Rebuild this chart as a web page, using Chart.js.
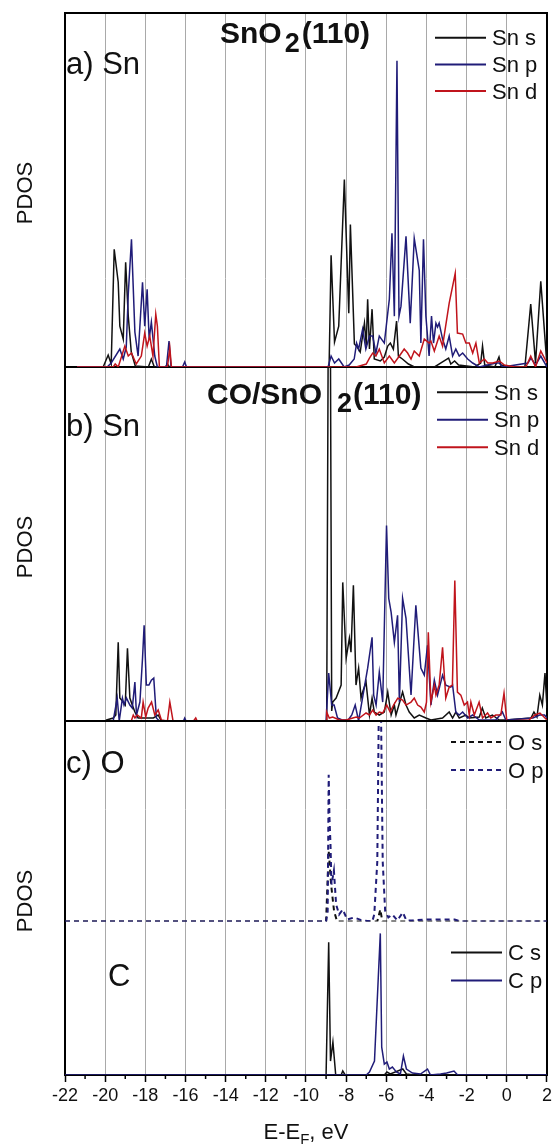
<!DOCTYPE html>
<html>
<head>
<meta charset="utf-8">
<script src="https://cdn.jsdelivr.net/npm/chart.js@4.4.0/dist/chart.umd.min.js"></script>
<style>
  html, body { margin: 0; padding: 0; background: #fff; }
  #wrap { width: 555px; height: 1144px; position: relative; }
</style>
</head>
<body>
<div id="wrap"><canvas id="pdosChart"></canvas></div>
<script>
// ==============================
// Dados - energia (eV) e PDOS (unidades arbitrarias)
// ==============================
const xMin = -22;
const xMax = 2;

// a) Sn em SnO2(110)
const aSnS_E = [-21.4, -20.1, -19.85, -19.7, -19.55, -19.35, -19.27, -19.1, -18.98, -18.85, -18.7, -18.5, -17.85, -17.7, -17.55, -17.0, -16.9, -16.8,
  -8.85, -8.75, -8.58, -8.37, -8.09, -7.87, -7.79, -7.59, -7.45, -7.3, -7.09, -7.0, -6.93, -6.84, -6.71, -6.6, -6.3, -6.1, -5.93, -5.8, -5.65, -5.49, -5.4, -5.2, -4.9, -4.6,
  -3.6, -3.3, -2.9, -2.79, -2.6, -2.4, -1.6, -1.3, -1.21, -1.1, -0.6, -0.39, -0.3, 0.2, 0.9, 1.19, 1.43, 1.69, 2.0];
const aSnS_V = [0, 0, 12, 3, 118, 85, 41, 28, 105, 51, 15, 1, 0, 8, 0, 0, 3, 0,
  0, 112, 25, 41, 188, 54, 143, 23, 20, 15, 44, 22, 68, 18, 58, 8, 6, 10, 21, 24, 18, 46, 11, 8, 3, 0,
  0, 4, 9, 3, 6, 2, 0, 4, 21, 2, 0, 10, 2, 0, 0, 63, 4, 86, 1];

const aSnP_E = [-21.4, -19.9, -19.7, -19.27, -19.1, -18.95, -18.85, -18.69, -18.52, -18.36, -18.14, -18.03, -17.91, -17.81, -17.7, -17.53, -17.4, -16.95, -16.82, -16.72, -16.15, -16.04, -15.95,
  -8.9, -8.75, -8.58, -8.37, -8.1, -7.85, -7.6, -7.48, -7.38, -7.18, -7.02, -6.84, -6.68, -6.52, -6.35, -6.1, -5.85, -5.72, -5.6, -5.47, -5.37, -5.27, -5.02, -4.81, -4.61, -4.36, -4.28, -4.15, -4.03,
  -3.87, -3.75, -3.65, -3.53, -3.45, -3.37, -3.2, -3.04, -2.87, -2.7, -2.54, -2.37, -2.2, -1.95, -1.7, -1.37, -0.54, -0.38, -0.2, 1.05, 1.2, 1.43, 1.69, 2.0];
const aSnP_V = [0, 0, 4, 18, 8, 20, 73, 128, 35, 11, 85, 41, 78, 28, 45, 11, 0, 0, 26, 0, 0, 5, 0,
  0, 11, 4, 8, 0, 2, 8, 24, 18, 38, 18, 31, 31, 14, 31, 24, 68, 134, 51, 307, 51, 61, 131, 44, 129, 97, 24, 128, 51,
  11, 51, 24, 44, 40, 44, 28, 18, 31, 11, 18, 11, 14, 8, 4, 0, 4, 4, 0, 4, 9, 2, 11, 0];

const aSnD_E = [-21.4, -19.6, -19.5, -19.35, -19.02, -18.85, -18.69, -18.45, -18.2, -18.03, -17.91, -17.78, -17.62, -17.48, -17.4, -17.3, -16.9, -16.78, -16.7,
  -7.5, -7.0, -6.84, -6.68, -6.52, -6.35, -6.1, -5.85, -5.6, -5.35, -5.11, -4.94, -4.77, -4.61, -4.36, -4.11, -3.87, -3.78, -3.61, -3.37, -3.2, -2.87, -2.57, -2.46,
  -2.2, -2.04, -1.87, -1.7, -1.54, -1.37, -1.12, -0.95, -0.7, -0.37, -0.12, 0.4, 0.95, 1.19, 1.43, 1.69, 2.0];
const aSnD_V = [0, 0, 3, 0, 21, 11, 14, 3, 11, 34, 21, 31, 11, 53, 41, 0, 0, 19, 0,
  0, 3, 9, 14, 11, 18, 4, 11, 4, 11, 18, 14, 8, 16, 11, 28, 24, 26, 16, 31, 21, 64, 94, 34,
  33, 24, 24, 14, 24, 4, 8, 4, 4, 6, 2, 0, 0, 11, 0, 16, 4];

// b) Sn em CO/SnO2(110)
const bSnS_E = [-21.4, -20.0, -19.93, -19.6, -19.47, -19.35, -19.27, -19.1, -19.0, -18.89, -18.77, -18.65, -18.52, -18.36, -18.1, -17.85, -17.6, -17.36, -17.2,
  -8.97, -8.9, -8.78, -8.72, -8.67, -8.5, -8.25, -8.17, -8.0, -7.84, -7.76, -7.64, -7.51, -7.38, -7.26, -7.18, -7.01, -6.84, -6.71, -6.6, -6.35, -6.1, -5.93, -5.76, -5.6, -5.52,
  -5.19, -5.02, -4.86, -4.61, -4.36, -4.03, -3.78, -3.2, -2.87, -2.7, -2.54, -2.37, -2.04, -1.87, -1.37, -1.22, -1.05, -0.72, -0.38, -0.05, 1.2, 1.35, 1.5, 1.64, 1.77, 1.9, 2.0];
const bSnS_V = [0, 0, 1, 3, 6, 79, 23, 19, 16, 73, 23, 16, 9, 3, 3, 3, 3, 6, 0,
  0, 355, 355, 10, 19, 23, 36, 139, 63, 83, 69, 136, 36, 53, 23, 29, 39, 6, 23, 9, 6, 9, 29, 6, 16, 6,
  29, 16, 9, 3, 6, 3, 1, 3, 9, 3, 9, 3, 6, 3, 4, 13, 3, 6, 1, 1, 3, 9, 4, 26, 16, 48, 13];

const bSnP_E = [-21.4, -19.6, -19.4, -19.3, -19.14, -19.06, -18.94, -18.77, -18.65, -18.52, -18.44, -18.27, -18.14, -18.06, -17.95, -17.82, -17.7, -17.58, -17.45, -17.3, -16.1, -16.04, -15.97,
  -9.0, -8.87, -8.72, -8.6, -8.43, -8.2, -7.9, -7.72, -7.55, -7.38, -7.22, -6.93, -6.71, -6.63, -6.51, -6.35, -6.18, -5.99, -5.88, -5.76, -5.6, -5.44, -5.35, -5.19, -5.02,
  -4.77, -4.53, -4.28, -4.11, -3.95, -3.78, -3.61, -3.45, -3.2, -3.04, -2.79, -2.7, -2.54, -2.37, -2.2, -1.95, -1.7, -1.37, -0.55, -0.22, -0.05, 1.3, 1.63, 1.88, 2.0];
const bSnP_V = [0, 0, 23, 0, 23, 16, 23, 16, 13, 39, 6, 19, 63, 96, 36, 36, 41, 43, 3, 0, 0, 3, 0,
  0, 48, 16, 16, 3, 1, 1, 6, 16, 0, 19, 53, 84, 26, 16, 49, 19, 196, 123, 109, 79, 106, 19, 123, 103,
  26, 116, 53, 46, 76, 16, 41, 26, 46, 36, 34, 36, 9, 6, 9, 3, 6, 1, 1, 9, 1, 3, 6, 6, 3];

const bSnD_E = [-21.4, -18.7, -18.6, -18.52, -18.4, -18.2, -18.11, -17.98, -17.86, -17.69, -17.53, -17.36, -17.2, -16.9, -16.78, -16.62, -15.6, -15.49, -15.42,
  -9.0, -8.97, -8.84, -8.67, -8.34, -8.0, -7.67, -7.5, -7.34, -7.01, -6.84, -6.68, -6.51, -6.35, -6.18, -5.98, -5.81, -5.64, -5.43, -5.19, -5.02, -4.77, -4.61, -4.44,
  -4.28, -4.11, -4.0, -3.91, -3.78, -3.61, -3.53, -3.37, -3.2, -3.04, -2.87, -2.71, -2.59, -2.46, -2.29, -2.12, -1.96, -1.87, -1.79, -1.62, -1.38, -1.21,
  -0.96, -0.8, -0.55, -0.3, -0.14, 0.0, 1.1, 1.4, 1.65, 2.0];
const bSnD_V = [0, 0, 6, 3, 6, 3, 19, 4, 13, 19, 6, 11, 1, 0, 19, 0, 0, 3, 0,
  0, 9, 3, 4, 1, 1, 3, 4, 3, 8, 6, 11, 6, 9, 8, 16, 9, 16, 23, 21, 16, 19, 23, 16,
  14, 9, 19, 89, 19, 36, 26, 36, 74, 23, 34, 36, 141, 29, 26, 16, 19, 6, 19, 6, 19, 3,
  8, 3, 6, 6, 28, 0, 1, 6, 8, 1];

// c) O e C da molecula CO
const cOS_E = [-22, -9.0, -8.87, -8.75, -8.6, -8.45, -6.45, -6.3, -6.2, 2.0];
const cOS_V = [0, 0, 71, 37, 10, 0, 0, 12, 0, 0];

const cOP_E = [-22, -9.0, -8.92, -8.87, -8.83, -8.78, -8.73, -8.61, -8.5, -8.35, -8.17, -7.95, -7.6, -7.2, -6.7, -6.6, -6.45, -6.38, -6.26, -6.18,
  -6.06, -5.9, -5.7, -5.45, -5.18, -5.0, -4.7, -3.95, -2.6, -2.3, 2.0];
const cOP_V = [0, 0, 10, 147, 104, 77, 37, 51, 17, 7, 12, 2, 4, 1, 0, 7, 60, 201, 201, 60,
  11, 4, 7, 1, 9, 1, 1, 2, 2, 0, 0];

const cCS_E = [-22, -9.0, -8.87, -8.78, -8.66, -8.52, -8.25, -8.17, -8.05, -6.1, -5.97, -5.8, -5.18, -5.0, -4.6, 2.0];
const cCS_V = [0, 0, 133, 14, 33, 0, 0, 4, 0, 0, 3, 1, 6, 1, 0, 0];

const cCP_E = [-22, -7.0, -6.84, -6.59, -6.4, -6.3, -6.23, -6.1, -5.97, -5.85, -5.7, -5.5, -5.3, -5.15, -5.0, -4.7, -4.3, -3.95, -3.8, -3.3, -3.0, -2.63, -2.45, 2.0];
const cCP_V = [0, 0, 3, 14, 98, 142, 28, 11, 13, 6, 8, 3, 1, 19, 6, 2, 1, 6, 0, 1, 2, 4, 0, 0];

// ==============================
// Estilos
// ==============================
const FONT = "'Liberation Sans', Arial, sans-serif";
const PRETO = "#111111";
const AZUL = "#201c78";
const VERMELHO = "#c0141c";
const GRADE = "#a9a9a9";
const TRACO = [5, 4];

function serie(label, es, vs, color, axis, order, dash) {
  return {
    label,
    data: es.map((e, i) => ({ x: e, y: vs[i] })),
    borderColor: color,
    borderWidth: dash ? 2 : 1.5,
    borderDash: dash || [],
    pointRadius: 0,
    tension: 0,
    fill: false,
    yAxisID: axis,
    order,
  };
}

function eixoPainel(max, peso, ordem) {
  return {
    type: "linear",
    position: "left",
    stack: "pdos",
    stackWeight: peso,
    weight: ordem,
    min: 0,
    max,
    ticks: { display: false },
    grid: { display: false, drawTicks: false },
    border: { display: false },
  };
}

// legendas e textos de cada painel
const painelTextos = [
  { axis: "yA", rotulo: "a) Sn", rx: 1, ry: 61,
    leg: [["Sn s", PRETO, []], ["Sn p", AZUL, []], ["Sn d", VERMELHO, []]], lx: 435, ly: 24.7, lstep: 26.7 },
  { axis: "yB", rotulo: "b) Sn", rx: 1, ry: 68.7,
    leg: [["Sn s", PRETO, []], ["Sn p", AZUL, []], ["Sn d", VERMELHO, []]], lx: 437, ly: 25.3, lstep: 27.5 },
  { axis: "yO", rotulo: "c) O", rx: 1, ry: 52,
    leg: [["O s", PRETO, TRACO], ["O p", AZUL, TRACO]], lx: 451, ly: 21, lstep: 28 },
  { axis: "yC", rotulo: "C", rx: 43, ry: 65,
    leg: [["C s", PRETO, []], ["C p", AZUL, []]], lx: 451, ly: 31, lstep: 28 },
];

function textoPartes(ctx, partes, x) {
  // partes: [texto, fonte, baseline, espaco-antes]
  partes.forEach(([t, f, y, gap]) => {
    ctx.font = f;
    x += gap || 0;
    ctx.fillText(t, x, y);
    x += ctx.measureText(t).width;
  });
}

const decor = {
  id: "decor",
  beforeDatasetsDraw(chart) {
    const { ctx, chartArea: a, scales } = chart;
    ctx.save();
    ctx.strokeStyle = "#000";
    ctx.lineWidth = 2;
    ctx.strokeRect(a.left, a.top, a.right - a.left, a.bottom - a.top);
    ctx.beginPath();
    ctx.moveTo(a.left, scales.yA.bottom);
    ctx.lineTo(a.right, scales.yA.bottom);
    ctx.stroke();
    // ticks menores (valores impares)
    ctx.lineWidth = 1.5;
    scales.x.ticks.forEach((t) => {
      if (Math.abs(t.value % 2) === 1) {
        const px = scales.x.getPixelForValue(t.value);
        ctx.beginPath();
        ctx.moveTo(px, a.bottom);
        ctx.lineTo(px, a.bottom + 4);
        ctx.stroke();
      }
    });
    ctx.restore();
  },
  afterDatasetsDraw(chart) {
    const { ctx, chartArea: a, scales } = chart;
    ctx.save();
    ctx.strokeStyle = "#000";
    ctx.lineWidth = 2;
    ctx.beginPath();
    ctx.moveTo(a.left, scales.yB.bottom);
    ctx.lineTo(a.right, scales.yB.bottom);
    ctx.stroke();

    ctx.fillStyle = "#111";
    ctx.textBaseline = "alphabetic";
    ctx.textAlign = "left";

    painelTextos.forEach((p) => {
      const s = scales[p.axis];
      ctx.font = `31px ${FONT}`;
      ctx.fillText(p.rotulo, a.left + p.rx, s.top + p.ry);
      p.leg.forEach(([nome, cor, dash], i) => {
        const y = s.top + p.ly + i * p.lstep;
        ctx.strokeStyle = cor;
        ctx.lineWidth = 2;
        ctx.setLineDash(dash);
        ctx.beginPath();
        ctx.moveTo(p.lx, y);
        ctx.lineTo(p.lx + 51, y);
        ctx.stroke();
        ctx.setLineDash([]);
        ctx.font = `22px ${FONT}`;
        ctx.fillText(nome, p.lx + 57, y + 7.5);
      });
    });

    // titulos dos paineis
    const yA = scales.yA.top, yB = scales.yB.top;
    textoPartes(ctx, [
      ["SnO", `bold 30px ${FONT}`, yA + 30],
      ["2", `bold 27px ${FONT}`, yA + 38.5, 3],
      ["(110)", `bold 30px ${FONT}`, yA + 30, 2],
    ], 220);
    textoPartes(ctx, [
      ["CO/SnO", `bold 30px ${FONT}`, yB + 37],
      ["2", `bold 27px ${FONT}`, yB + 45, 15],
      ["(110)", `bold 30px ${FONT}`, yB + 37, 1],
    ], 207);

    // PDOS em cada painel
    ctx.font = `22px ${FONT}`;
    ctx.textAlign = "center";
    [[scales.yA.top, scales.yA.bottom], [scales.yB.top, scales.yB.bottom], [scales.yO.top, scales.yC.bottom]].forEach(([t, b]) => {
      ctx.save();
      ctx.translate(31.5, (t + b) / 2 + 3);
      ctx.rotate(-Math.PI / 2);
      ctx.fillText("PDOS", 0, 0);
      ctx.restore();
    });

    // titulo do eixo x: E-E_F, eV
    ctx.textAlign = "left";
    const partes = [
      ["E-E", `22px ${FONT}`, 1139],
      ["F", `15px ${FONT}`, 1144],
      [", eV", `22px ${FONT}`, 1139],
    ];
    let w = 0;
    partes.forEach(([t, f]) => { ctx.font = f; w += ctx.measureText(t).width; });
    textoPartes(ctx, partes, (a.left + a.right) / 2 - w / 2);
    ctx.restore();
  },
};

// ==============================
// Grafico
// ==============================
const ctx = document.getElementById("pdosChart");
new Chart(ctx, {
  type: "line",
  data: {
    datasets: [
      serie("Sn s", aSnS_E, aSnS_V, PRETO, "yA", 3),
      serie("Sn p", aSnP_E, aSnP_V, AZUL, "yA", 2),
      serie("Sn d", aSnD_E, aSnD_V, VERMELHO, "yA", 1),
      serie("Sn s", bSnS_E, bSnS_V, PRETO, "yB", 3),
      serie("Sn p", bSnP_E, bSnP_V, AZUL, "yB", 2),
      serie("Sn d", bSnD_E, bSnD_V, VERMELHO, "yB", 1),
      serie("O s", cOS_E, cOS_V, PRETO, "yO", 2, TRACO),
      serie("O p", cOP_E, cOP_V, AZUL, "yO", 1, TRACO),
      serie("C s", cCS_E, cCS_V, PRETO, "yC", 2),
      serie("C p", cCP_E, cCP_V, AZUL, "yC", 1),
    ],
  },
  options: {
    responsive: true,
    maintainAspectRatio: false,
    animation: false,
    layout: { padding: { left: 65, right: 7, top: 13, bottom: 34.4 } },
    plugins: { legend: { display: false }, tooltip: { enabled: false } },
    scales: {
      x: {
        type: "linear",
        min: xMin,
        max: xMax,
        ticks: {
          stepSize: 1,
          autoSkip: false,
          maxRotation: 0,
          padding: 3,
          color: "#111",
          font: { family: FONT, size: 18 },
          callback: (v) => (v % 2 === 0 ? String(v) : ""),
        },
        grid: {
          color: (c) => (c.tick && c.tick.value % 2 === 0 ? GRADE : "rgba(0,0,0,0)"),
          tickColor: (c) => (c.tick && c.tick.value % 2 === 0 ? "#000" : "rgba(0,0,0,0)"),
          lineWidth: 1,
          tickWidth: 1.5,
          tickLength: 7,
        },
        border: { display: false },
      },
      yA: eixoPainel(355, 355, 4),
      yB: eixoPainel(355, 355, 3),
      yO: eixoPainel(201, 201, 2),
      yC: eixoPainel(154, 154, 1),
    },
  },
  plugins: [decor],
});
</script>
</body>
</html>
